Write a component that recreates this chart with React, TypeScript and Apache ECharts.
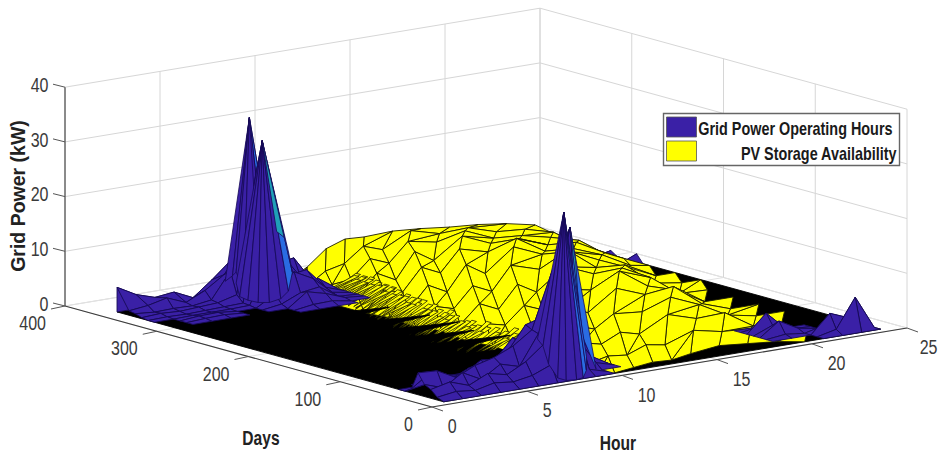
import React, { useEffect, useRef } from "react";
import * as echarts from "echarts";

const hourTicks = [0, 5, 10, 15, 20, 25];
const dayTicks = [0, 100, 200, 300, 400];
const powerTicks = [0, 10, 20, 30, 40];
const hours = [1, 2, 3, 4, 5, 6, 7, 8, 9, 10, 11, 12, 13, 14, 15, 16, 17, 18, 19, 20, 21, 22, 23, 24];
const gridDays = [8, 15, 22, 29, 36, 43, 50, 57, 64, 71, 267, 274, 281, 288, 295, 302, 309, 316, 323, 330, 337, 344, 351, 364];

// PV storage availability
const pvHours = [9, 10, 11, 12, 13, 14, 15.5, 17, 18.5, 20, 21.5, 23, 24];
const pvDays = [8, 36, 64, 92, 120, 148, 176, 204, 232, 260, 288, 316, 344, 364];
const pvRows = [
  [0, .1, .5, .9, .7, 1.3, 1.9, 1.4, .9, 0, 0, 0, 0],
  [0, .5, 1.3, .9, 2.2, 1.6, 3.4, 2.3, 2.0, 0, 0, 0, 0],
  [.2, .8, 2.4, 1.6, 3.2, 2.3, 5.0, 3.4, 3.6, .3, 0, 0, 0],
  [0, 1.8, 1.2, 3.6, 2.5, 4.7, 4.2, 6.0, 3.8, 1.0, 0, 0, 0],
  [.4, .9, 3.4, 2.2, 5.2, 3.6, 7.2, 5.2, 5.8, 1.8, 0, 0, 0],
  [0, 2.6, 1.8, 4.8, 3.4, 6.6, 5.6, 8.2, 4.6, 3.0, 0, 0, 0],
  [.6, 1.2, 4.4, 2.8, 6.8, 4.8, 8.6, 6.4, 6.6, 4.0, .2, 0, 0],
  [0, 3.2, 2.2, 5.8, 4.2, 8.4, 6.8, 9.4, 5.4, 5.0, .8, 0, 0],
  [.4, 1.4, 5.2, 3.4, 7.8, 5.6, 9.6, 7.4, 7.0, 4.6, 2.4, 0, 0],
  [0, 3.6, 2.6, 6.6, 5.0, 8.8, 7.4, 9.0, 5.8, 5.4, 3.4, .6, 0],
  [0, 1.2, 4.8, 3.0, 7.6, 5.4, 9.0, 6.8, 6.8, 4.8, 4.4, 1.6, 0],
  [0, 2.0, 2.4, 5.6, 4.2, 7.6, 6.6, 7.8, 5.6, 5.2, 4.0, 2.6, .2],
  [0, .3, 2.6, 3.4, 6.0, 4.8, 7.4, 6.0, 6.2, 4.6, 4.2, 2.8, .5],
  [0, .6, 2.4, 5.2, 6.4, 6.2, 6.4, 6.0, 5.4, 5.0, 4.3, 3.2, 1.0],
];

// thin rising facets at the foot of the PV mound
const fringeDays = [60, 64, 68, 72, 76, 80, 84, 88, 92, 96, 100, 104, 108, 112, 116, 120, 124, 128, 132, 136, 140, 144, 148, 152, 156, 160, 164, 168, 172, 176, 180, 184, 188, 192, 196, 200, 204, 208, 212, 216, 220, 224, 228, 232, 236, 240, 244, 248, 252, 256, 260, 264, 268, 272, 276, 280, 284, 288, 292, 296, 300, 304, 308, 312, 316, 320, 324, 328];
const fringeHours = [8.6, 8.5, 8.7, 8.3, 8.4, 8.2, 8.3, 8.0, 8.2, 7.9, 8.1, 7.8, 8.0, 7.7, 7.9, 7.6, 7.8, 7.5, 7.7, 7.5, 7.6, 7.5, 7.7, 7.6, 7.8, 7.7, 7.6, 7.8, 7.7, 7.9, 7.8, 8.0, 7.9, 8.1, 8.0, 8.2, 8.1, 8.3, 8.2, 8.4, 8.3, 8.5, 8.4, 8.6, 8.5, 8.7, 8.8, 8.7, 8.9, 9.0, 8.9, 9.1, 9.2, 9.1, 9.3, 9.4, 9.3, 9.5, 9.6, 9.5, 9.7, 9.8, 9.7, 9.9, 10.0, 9.9, 10.1, 10.2];
const fringeTops = [1.6, 2.2, 1.4, 2.8, 1.8, 2.4, 3.0, 1.6, 2.6, 3.2, 2.0, 2.8, 3.4, 1.8, 2.6, 3.2, 2.2, 3.0, 3.6, 2.0, 2.8, 3.4, 2.4, 3.0, 1.8, 2.6, 3.4, 2.2, 3.0, 3.6, 2.0, 2.8, 3.2, 1.8, 2.6, 3.4, 2.4, 3.0, 3.6, 2.0, 2.8, 3.2, 2.2, 3.0, 3.4, 1.8, 2.6, 3.2, 2.4, 3.0, 3.4, 2.0, 2.8, 3.2, 1.8, 2.6, 3.0, 2.2, 2.8, 3.2, 1.8, 2.4, 2.8, 1.6, 2.2, 2.6, 1.4, 1.8];
const wedgeDays = [72, 108, 145, 172, 199, 228, 264, 310];
const wedgeTips = [10, 10.6, 11.1, 10.5, 11, 10.9, 10.5, 10.1];

// Grid power, early hours 1..11, by day
const gridEarly: Record<number, number[]> = {
  15: [.5, 1, .6, 1.4, 1, 1.6, 3, 12, 1, 0, 0],
  22: [1.6, 2.4, 1.2, 2.8, 2, 3.8, 6.6, 30, 5, 0, 0],
  29: [2.2, 1.0, 3.2, 1.4, 3.6, 2.6, 8, 16, 8, 1, 0],
  36: [4, 3.8, 2.0, 3.6, 4.5, 6, 8.4, 18, 26, 2, 0],
  43: [.8, 3.2, 1.2, 2.8, 2.2, 4.4, 9, 10, 14, 1, 0],
  50: [0, .6, 1.8, 1.2, 3.4, 3.0, 5.4, 8, 16, 1, 0],
  57: [0, 0, .3, 1.0, .8, 2.2, 6, 4, 6, .5, 0],
  64: [0, 0, 0, .2, .6, 1, 2.4, 3, 2, 0, 0],
  295: [0, 0, 0, 0, 0, 0, 0, .5, .6, 0, 0],
  302: [0, 0, 0, 0, 0, 0, 0, 2.5, 1.6, .3, 0],
  309: [0, 0, .2, .3, 0, 0, .5, 2, 2.5, .2, 0],
  316: [0, 0, .3, .4, 0, 0, 2, 5.5, 3.7, .6, 0],
  323: [0, 0, .1, .1, .1, .2, 7, 4.5, 5, 1.2, 0],
  330: [0, .1, 0, .1, .2, .3, 29.4, 8, 3.5, 2.4, 0],
  337: [.2, .4, .2, .4, .6, 1.5, 23, 6, 6.5, 1.6, 0],
  344: [.6, .3, .4, .3, .8, 5.5, 33, 12, 5.6, 2, 0],
  351: [.8, 1.2, 2.0, .6, 2.2, 4.5, 9, 6.5, 4.5, 1, 0],
  364: [4.5, 2.6, 1.5, 1.9, .3, 3, 6, 5, 3, .6, 0],
};
// Grid power, late hours 19..24, by day
const gridLate: Record<number, number[]> = {
  15: [0, 0, 0, .8, 6.1, 0],
  22: [0, 0, 0, 3.4, 2, 0],
  29: [0, .4, 0, .8, .4, 0],
  36: [0, 2.5, .6, 0, 0, 0],
  43: [0, 1.4, .2, 0, 0, 0],
  50: [0, 3.3, 0, 0, 0, 0],
  57: [0, .5, 0, 0, 0, 0],
  274: [0, 0, 0, 0, 0, 1.5],
  302: [0, 0, 0, 0, 0, .8],
};

// Apexes of the two double spikes, with the points their facets fan out to
const spikeFans: { apex: number[]; base: number[][]; color: string }[] = [
  { apex: [7, 344, 33], base: [[6.5, 360, 2.6], [6.5, 352, 4], [6.4, 346, 5], [6.5, 340, 2], [7, 336, 12]], color: "blue" },
  { apex: [7, 330, 29.4], base: [[6.4, 346, 3], [6.2, 338, 1], [6.3, 331, .6], [6.5, 324, .4], [6.8, 318, .5], [7.3, 316, 1], [7.8, 318, 2]], color: "blue" },
  { apex: [7, 330, 29.4], base: [[7.8, 318, 2], [8.2, 322, 5], [8.4, 330, 8]], color: "light" },
  { apex: [7, 330, 29.4], base: [[8, 335, 12], [8.2, 331, 11]], color: "teal" },
  { apex: [9, 36, 26], base: [[8, 44, 9], [8, 38, 10], [8.3, 33, 16]], color: "blue" },
  { apex: [9, 36, 26], base: [[9.3, 28, 6], [9.6, 20, .5]], color: "light" },
  { apex: [9, 36, 26], base: [[9.15, 33, 20], [9.3, 33, 12]], color: "teal" },
  { apex: [8, 22, 30], base: [[7, 30, 7], [7, 24, 6], [7, 18, 3], [7.2, 12, .6], [7.5, 9, .1], [8, 8, 0], [8.4, 9, .1]], color: "blue" },
  { apex: [8, 22, 30], base: [[8.4, 9, .1], [8.8, 14, 1], [9.1, 20, 3]], color: "light" },
];

const legendLabels = ["Grid Power Operating Hours", "PV Storage Availability"];
const BLUE = "#3a20a6";
const LIGHT = "#2a6ce2";
const TEAL = "#1f9fb8";
const YELLOW = "#ffff00";
const fanColor: Record<string, string> = { blue: BLUE, light: LIGHT, teal: TEAL };

const O = { x: 432, y: 407 };
const PER_HOUR = { x: 19, y: -3.16 };
const PER_DAY = { x: -0.9175, y: -0.2525 };
const PER_KW = -5.47;
const project = (h: number, d: number, z: number): [number, number] => [
  O.x + PER_HOUR.x * h + PER_DAY.x * d,
  O.y + PER_HOUR.y * h + PER_DAY.y * d + PER_KW * z,
];

const grid = (r: number, c: number) => {
  const day = gridDays[r];
  const hour = hours[c];
  if (hour <= 11) return gridEarly[day] ? gridEarly[day][hour - 1] : 0;
  if (hour >= 19) return gridLate[day] ? gridLate[day][hour - 19] : 0;
  return 0;
};

const items: any[] = [];
const poly = (pts: number[][], fill: string, stroke: string, w = 0.9) => items.push({ k: "poly", pts, fill, stroke, w });
const GRIDLINE = "#d6d6d6";
powerTicks.forEach((z) => {
  items.push({ k: "line", a: [0, 400, z], b: [25, 400, z], c: GRIDLINE });
  items.push({ k: "line", a: [25, 400, z], b: [25, 0, z], c: GRIDLINE });
});
hourTicks.forEach((h) => {
  items.push({ k: "line", a: [h, 400, 0], b: [h, 400, 40], c: GRIDLINE });
  items.push({ k: "line", a: [h, 0, 0], b: [h, 400, 0], c: "#e2e2e2" });
});
dayTicks.forEach((d) => {
  items.push({ k: "line", a: [25, d, 0], b: [25, d, 40], c: GRIDLINE });
  items.push({ k: "line", a: [0, d, 0], b: [25, d, 0], c: "#e2e2e2" });
});
const lastDay = gridDays[gridDays.length - 1];
poly([[hours[0], gridDays[0], 0], [hours[23], gridDays[0], 0], [hours[23], lastDay, 0], [hours[0], lastDay, 0]], "#000", "#000");

const gridCells = (keep: (c: number, r: number) => boolean) => {
  for (let r = gridDays.length - 2; r >= 0; r--) {
    for (let c = hours.length - 2; c >= 0; c--) {
      if (!keep(c, r)) continue;
      const h0 = hours[c], h1 = hours[c + 1], d0 = gridDays[r], d1 = gridDays[r + 1];
      const gy = [grid(r, c), grid(r, c + 1), grid(r + 1, c + 1), grid(r + 1, c)];
      if (!gy.some((v) => v > 0)) continue;
      if (d1 === lastDay) poly([[h0, d1, 0], [h1, d1, 0], [h1, d1, gy[2]], [h0, d1, gy[3]]], BLUE, "#160a55");
      const drop = Math.max(gy[0] - gy[1], gy[3] - gy[2]);
      poly([[h0, d0, gy[0]], [h1, d0, gy[1]], [h1, d1, gy[2]], [h0, d1, gy[3]]], drop > 12 ? LIGHT : BLUE, "#160a55");
    }
  }
};

// far tents on the late side stand behind the mound
gridCells((c, r) => hours[c] >= 18 && gridDays[r] > 100);

// PV mound: its cells are sheared, so that their long edges stand upright in the view
const pvPoint = (r: number, c: number) => [pvHours[c], pvDays[r], pvRows[r][c]];
for (let r = pvDays.length - 2; r >= 0; r--) {
  for (let c = pvHours.length - 1; c >= -1; c--) {
    let pts: number[][];
    if (c === -1) pts = [pvPoint(r, 0), pvPoint(r + 1, 1), pvPoint(r + 1, 0)];
    else if (c === pvHours.length - 1) continue;
    else if (c === pvHours.length - 2) pts = [pvPoint(r, c), pvPoint(r, c + 1), pvPoint(r + 1, c + 1)];
    else pts = [pvPoint(r, c), pvPoint(r, c + 1), pvPoint(r + 1, c + 2), pvPoint(r + 1, c + 1)];
    if (!pts.some((p) => p[2] > 0)) continue;
    if (pts.length === 4 && (r * 7 + c * 3) % 4 === 0) {
      poly([pts[0], pts[1], pts[2]], YELLOW, "#1c1c00");
      poly([pts[0], pts[2], pts[3]], YELLOW, "#1c1c00");
    } else {
      poly(pts, YELLOW, "#1c1c00");
    }
  }
}
fringeDays.forEach((d, i) => {
  const h = fringeHours[i], z = fringeTops[i];
  if (h === undefined || z === undefined) return;
  poly([[h, d, 0], [h + 1.6, d - 4, z * 1.15], [h + 1.6, d + 1, z * 1.15]], YELLOW, "#1c1c00", 0.8);
});
wedgeDays.forEach((d, i) => poly([[6, d + 16, 0], [wedgeTips[i], d, 0], [6, d - 16, 0]], "#000", "#000"));

gridCells((c, r) => hours[c] >= 18 && gridDays[r] <= 100);
gridCells((c) => hours[c] < 18);

spikeFans.forEach((f) => {
  for (let i = 0; i + 1 < f.base.length; i++) poly([f.apex, f.base[i], f.base[i + 1]], fanColor[f.color], "#160a55", 0.8);
});

const AXIS = "#3c3c3c";
items.push({ k: "line", a: [0, 400, 0], b: [0, 400, 40], c: AXIS });
items.push({ k: "line", a: [0, 400, 0], b: [0, 0, 0], c: AXIS });
items.push({ k: "line", a: [0, 0, 0], b: [25, 0, 0], c: AXIS });
powerTicks.forEach((z) => items.push({ k: "tick", a: [0, 400, z], o: [-12, -3] }));
dayTicks.forEach((d) => items.push({ k: "tick", a: [0, d, 0], o: [-14, 3] }));
hourTicks.forEach((h) => items.push({ k: "tick", a: [h, 0, 0], o: [11, 4] }));

const renderItem = (params: any, api: any) => {
  const it = items[api.value(0)];
  const at = (p: number[]) => api.coord(project(p[0], p[1], p[2]));
  if (it.k === "poly") {
    return {
      type: "polygon",
      shape: { points: it.pts.map(at) },
      style: { fill: it.fill, stroke: it.stroke, lineWidth: it.w, lineJoin: "round" },
    };
  }
  const a = at(it.a);
  const b = it.k === "tick" ? [a[0] + it.o[0], a[1] + it.o[1]] : at(it.b);
  return {
    type: "line",
    shape: { x1: a[0], y1: a[1], x2: b[0], y2: b[1] },
    style: { stroke: it.k === "tick" ? "#555" : it.c, lineWidth: it.c === AXIS ? 1.1 : 1 },
  };
};

const SANS = '"Liberation Sans", sans-serif';
const TICK = { font: `20px ${SANS}`, fill: "#3a3a3a", verticalAlign: "middle" };
const TITLE = { font: `bold 20px ${SANS}`, fill: "#222", align: "center", verticalAlign: "middle" };
const LEGEND = { font: `bold 18px ${SANS}`, fill: "#1a1a1a", align: "right", verticalAlign: "middle" };

const buildGraphics = () => {
  const g: any[] = [];
  powerTicks.forEach((z) => {
    const [x, y] = project(0, 400, z);
    g.push({ type: "text", x: x - 16.5, y: y - 2, scaleX: 0.8, style: { ...TICK, text: String(z), align: "right" } });
  });
  dayTicks.forEach((d) => {
    const [x, y] = project(0, d, 0);
    g.push({ type: "text", x: x - 19, y: y + 17.5, scaleX: 0.8, style: { ...TICK, text: String(d), align: "right" } });
  });
  hourTicks.forEach((h) => {
    const [x, y] = project(h, 0, 0);
    const nudge = h === 25 ? -3 : 0;
    g.push({ type: "text", x: x + 15.7 + nudge, y: y + 19.5, scaleX: 0.8, style: { ...TICK, text: String(h), align: "left" } });
  });
  g.push({ type: "text", x: 261, y: 438, scaleX: 0.78, style: { ...TITLE, text: "Days" } });
  g.push({ type: "text", x: 618, y: 443, scaleX: 0.78, style: { ...TITLE, text: "Hour" } });
  g.push({ type: "text", x: 18, y: 196, rotation: Math.PI / 2, style: { ...TITLE, text: "Grid Power (kW)", font: `bold 19.5px ${SANS}` } });
  g.push({ type: "rect", z: 10, shape: { x: 663.5, y: 113.5, width: 236, height: 52 }, style: { fill: "#fff", stroke: "#666", lineWidth: 1.4 } });
  g.push({ type: "rect", z: 11, shape: { x: 666.5, y: 117, width: 30, height: 20 }, style: { fill: BLUE, stroke: "#555", lineWidth: 0.8 } });
  g.push({ type: "rect", z: 11, shape: { x: 666.5, y: 141, width: 30, height: 20 }, style: { fill: YELLOW, stroke: "#555", lineWidth: 0.8 } });
  g.push({ type: "text", z: 11, x: 892.5, y: 128, scaleX: 0.8, style: { ...LEGEND, text: legendLabels[0] } });
  g.push({ type: "text", z: 11, x: 896.5, y: 153.5, scaleX: 0.8, style: { ...LEGEND, text: legendLabels[1] } });
  return g;
};

export default function App() {
  const ref = useRef<HTMLDivElement>(null);
  useEffect(() => {
    const chart = echarts.init(ref.current!, undefined, { renderer: "svg" });
    chart.setOption({
      animation: false,
      backgroundColor: "#fff",
      grid: { left: 0, top: 0, right: 0, bottom: 0 },
      xAxis: { type: "value", min: 0, max: 938, show: false },
      yAxis: { type: "value", min: 0, max: 454, inverse: true, show: false },
      graphic: buildGraphics(),
      series: [{
        type: "custom",
        renderItem,
        progressive: 0,
        silent: true,
        clip: false,
        data: items.map((_, i) => [i]),
        encode: { x: -1, y: -1 },
      }],
    });
    return () => chart.dispose();
  }, []);
  return <div ref={ref} style={{ position: "fixed", left: 0, top: 0, width: 938, height: 454 }} />;
}
